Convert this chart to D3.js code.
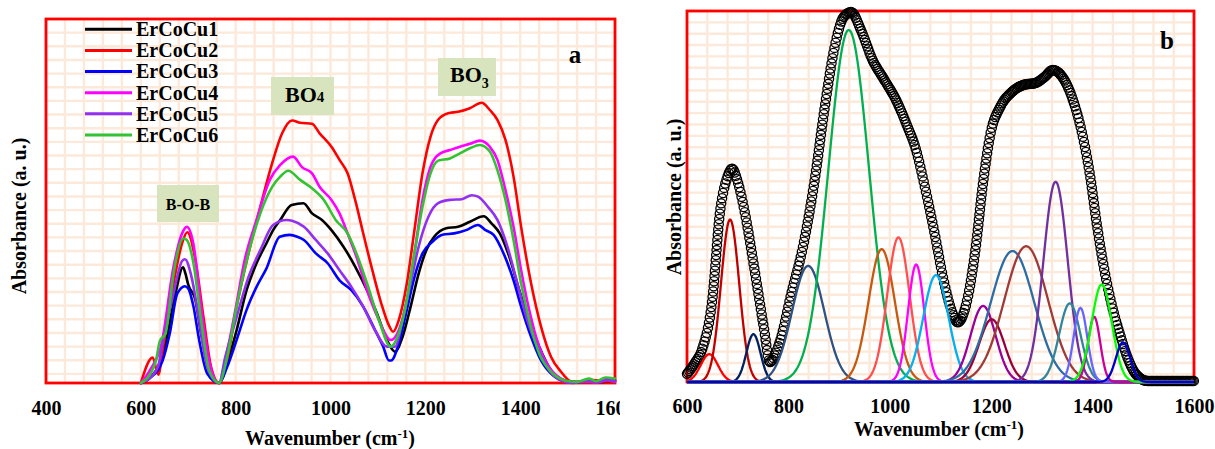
<!DOCTYPE html>
<html>
<head>
<meta charset="utf-8">
<script src="https://cdn.jsdelivr.net/npm/d3@7"></script>
<style>
  body { margin: 0; background: #ffffff; }
  svg { display: block; }
  text { font-family: "Liberation Serif", "Times New Roman", serif; font-weight: bold; fill: #000; }
</style>
</head>
<body>
<svg id="chart" width="1215" height="449"></svg>
<script>
// ---------- Panel (a): FTIR spectra of the six glasses ----------
const sampleNames  = ["ErCoCu1", "ErCoCu2", "ErCoCu3", "ErCoCu4", "ErCoCu5", "ErCoCu6"];
const sampleColors = ["#000000", "#ff0000", "#0000ff", "#ff00ff", "#9130f0", "#33c233"];

// [wavenumber (cm-1), absorbance (a. u.)]
const spectrumErCoCu1 = [[600,0],[620,1.5],[636,4.4],[652,10.8],[673,24.6],[689,31.8],[694,30.1],[700,27],[715,22.8],[727,13.6],[744,3.5],[765,0],[782,5.3],[802,14.5],[823,25.5],[844,32.9],[865,38.4],[879,42],[894,44.8],[918,48.9],[943,49.4],[961,46.6],[982,44.8],[1002,42],[1027,37.5],[1052,32],[1077,25.5],[1098,19.1],[1119,11.8],[1136,8.6],[1152,12.7],[1169,21],[1186,30.1],[1202,36.5],[1219,40.2],[1244,42.5],[1269,42.9],[1294,44.3],[1323,45.8],[1340,43.8],[1357,41.1],[1377,34.7],[1398,25.5],[1419,17.3],[1440,10],[1465,3.5],[1494,0.7],[1520,0.2],[1550,0.6],[1575,0.3],[1600,0.8]];
const spectrumErCoCu2 = [[600,0],[625,7],[637,2.3],[646,9.1],[669,27.4],[687,38.4],[698,41.4],[715,33.8],[732,18.2],[748,4.5],[765,0],[782,6.3],[802,21],[827,35.6],[852,48.4],[877,60.4],[898,68.6],[919,72.1],[936,71.5],[961,71.2],[977,68.6],[1002,64.9],[1019,61.3],[1036,57.6],[1052,50.3],[1069,41.1],[1090,30.1],[1107,21.9],[1123,15.9],[1132,14.1],[1144,17.3],[1161,27.4],[1177,42],[1194,57.6],[1211,67.7],[1227,72.3],[1248,74.1],[1269,74.5],[1294,75.5],[1319,77],[1336,75],[1352,72.3],[1369,66.8],[1386,56.7],[1402,42.9],[1423,27.4],[1444,15.5],[1465,7.2],[1486,3.1],[1507,0.5],[1530,0.3],[1555,0.8],[1580,0.4],[1600,0.6]];
const spectrumErCoCu3 = [[600,0],[620,1.5],[636,3.5],[646,6.2],[661,13.6],[677,24.6],[693,26.6],[700,26],[711,21],[723,11.8],[740,2.6],[765,0],[782,4.4],[802,11.8],[823,20.1],[844,26.4],[865,31.5],[893,40.2],[914,40.7],[930,40.2],[944,39.3],[969,35.6],[994,32.9],[1019,28.2],[1044,25.5],[1069,21],[1094,14.5],[1111,10],[1123,6.2],[1128,6.2],[1144,10.8],[1161,20.1],[1177,29.1],[1194,35.6],[1215,38.8],[1236,40.7],[1261,41.1],[1286,42],[1311,43.4],[1327,42],[1344,40.7],[1365,35.6],[1386,28.2],[1402,21],[1423,12.7],[1444,6.2],[1469,2.1],[1494,0.5],[1520,0.2],[1545,0.8],[1565,0.3],[1585,1.2],[1600,0.5]];
const spectrumErCoCu4 = [[600,0],[619,3.5],[644,11],[669,32],[687,41.1],[697,42.9],[711,38.1],[727,21],[744,6.2],[765,0],[778,6.2],[798,19.1],[819,33.8],[844,44.8],[872,55.8],[894,59.9],[921,62.2],[940,59.3],[961,57.6],[977,53.9],[1002,50.3],[1019,46.6],[1036,41.1],[1057,33.8],[1077,25.5],[1102,17.3],[1127,11.8],[1144,14.5],[1161,22.8],[1177,35.6],[1194,50.3],[1211,59.4],[1232,63.1],[1252,64],[1273,64.9],[1294,65.7],[1315,66.6],[1336,64.9],[1352,61.3],[1369,53],[1386,42.9],[1402,31],[1419,20.1],[1440,10],[1461,4.4],[1486,1.2],[1511,0.2],[1535,0.5],[1560,0.2],[1580,0.9],[1600,0.4]];
const spectrumErCoCu5 = [[600,0],[620,1.5],[636,4.4],[646,10.8],[669,24.6],[687,33.5],[693,34],[707,29.1],[723,17.3],[740,4.4],[765,0],[778,7.1],[802,18.1],[827,29.1],[852,36.5],[879,43.4],[907,44.8],[919,44.6],[944,42.9],[969,39.3],[994,35.6],[1019,31],[1044,26.4],[1069,21],[1094,14.5],[1119,10],[1136,10],[1152,17.3],[1169,27.4],[1186,37.5],[1207,45.8],[1227,49.4],[1252,50.3],[1277,50.5],[1298,51.6],[1311,51.2],[1332,48.4],[1352,44.8],[1373,37.5],[1394,27.4],[1415,17.3],[1436,10],[1461,3.5],[1486,0.7],[1511,0],[1540,0.4],[1565,0.2],[1585,0.8],[1600,0.3]];
const spectrumErCoCu6 = [[600,0],[620,2.5],[632,6.2],[640,11.5],[652,13.6],[669,30.1],[690,39.7],[697,39.3],[711,32.9],[727,17.3],[744,3.5],[765,0],[782,7.1],[802,21],[827,35.6],[852,46.6],[877,53.9],[894,56.7],[911,58.3],[936,55.8],[961,53.5],[986,50.3],[1011,44.8],[1036,41.1],[1052,36.5],[1077,27.4],[1102,17.3],[1127,10],[1144,13.6],[1161,22.8],[1177,35.6],[1194,48.4],[1211,57.6],[1227,61.1],[1252,61.7],[1273,63.1],[1294,64.5],[1315,65.4],[1336,63.6],[1352,58.5],[1369,50.3],[1386,39.3],[1402,27.4],[1419,17.3],[1440,8.1],[1465,3.1],[1494,0.7],[1520,0.3],[1545,1.2],[1560,0.5],[1580,1.5],[1600,1.2]];
const spectraA = [spectrumErCoCu1, spectrumErCoCu2, spectrumErCoCu3, spectrumErCoCu4, spectrumErCoCu5, spectrumErCoCu6];

const ticksA = [400, 600, 800, 1000, 1200, 1400, 1600];

// ---------- Panel (b): deconvolution of one spectrum ----------
// measured spectrum (open circles), [wavenumber, absorbance]
const measuredB = [[600,2.2],[615,5],[630,8.9],[650,22.3],[665,45.7],[679,55],[689,57.5],[700,54],[714,45.7],[734,29.6],[753,13.4],[763,5.4],[783,10.8],[806,24],[829,36.6],[852,54.6],[871,73.4],[890,89.5],[909,98.4],[924,99.7],[943,94.9],[966,86.8],[989,81.5],[1012,76.1],[1035,68.8],[1050,63.4],[1069,52.7],[1088,40.3],[1107,26.9],[1123,18.8],[1134,16.1],[1153,22.3],[1169,35.8],[1184,53.8],[1199,67.2],[1218,74.2],[1241,78.2],[1264,80.1],[1287,80.6],[1306,82.3],[1321,84.1],[1340,82.3],[1363,75.3],[1379,67.2],[1394,56.5],[1409,41.9],[1424,29.6],[1440,19.6],[1455,12.4],[1470,6.2],[1485,2.2],[1508,0.3],[1550,0.3],[1600,0.3]];

// fitted Gaussian bands: centre (cm-1), height, standard deviation (cm-1)
const bandCentres = [644, 685, 731, 839, 919, 984, 1017, 1052, 1091, 1184, 1201, 1242, 1269, 1327, 1355, 1376, 1403, 1418, 1460];
const bandHeights = [7.5, 43.8, 12.9, 31.3, 94.9, 35.8, 39, 31.7, 28.8, 20.5, 16.9, 35.3, 36.6, 54, 21.2, 20, 17.6, 26.3, 10.7];
const bandSigmas  = [17, 18, 14, 32, 40, 26, 22, 16, 25, 25, 25, 43, 43, 24, 21, 13.5, 12, 20, 14];
const bandColors  = ["#ff0000", "#c00000", "#002060", "#2f5283", "#00b050", "#c65911", "#ff5050", "#ff00ff", "#00b0f0", "#990099", "#99003a", "#2e6da4", "#9e3a38", "#7030a0", "#31869b", "#6666ff", "#cc0099", "#00ff00", "#0000cc"];

const ticksB = [600, 800, 1000, 1200, 1400, 1600];

// ---------- drawing ----------
const svg = d3.select("#chart");
const gridColor = "#fde9d9";
const borderColor = "#ff0000";

function drawGrid(g, x, y, xStep, yValues) {
  const [x0, x1] = x.domain();
  const xs = d3.range(x0, x1 + 0.001, xStep);
  g.append("g").selectAll("line").data(xs).join("line")
    .attr("x1", d => x(d)).attr("x2", d => x(d))
    .attr("y1", y.range()[0]).attr("y2", y.range()[1])
    .attr("stroke", gridColor).attr("stroke-width", 2.4);
  g.append("g").selectAll("line").data(yValues).join("line")
    .attr("x1", x.range()[0]).attr("x2", x.range()[1])
    .attr("y1", d => y(d)).attr("y2", d => y(d))
    .attr("stroke", gridColor).attr("stroke-width", 2.4);
}

function drawBorder(g, x, y) {
  g.append("rect")
    .attr("x", x.range()[0]).attr("y", y.range()[1])
    .attr("width", x.range()[1] - x.range()[0])
    .attr("height", y.range()[0] - y.range()[1])
    .attr("fill", "none").attr("stroke", borderColor).attr("stroke-width", 2.8);
}

function drawXAxis(g, x, yPos, ticks, labelOffset) {
  const ax = g.append("g").attr("transform", `translate(0,${yPos})`)
    .call(d3.axisBottom(x).tickValues(ticks).tickSize(0).tickFormat(d3.format("d")));
  ax.select(".domain").remove();
  ax.selectAll("text").attr("y", labelOffset).attr("dy", 0)
    .style("font-size", "20px").style("font-family", "Liberation Serif, serif").style("font-weight", "bold").attr("fill", "#000");
}

function xTitle(g, cx, baseline) {
  const t = g.append("text").attr("x", cx).attr("y", baseline).attr("text-anchor", "middle").style("font-size", "20px");
  t.append("tspan").text("Wavenumber (cm");
  t.append("tspan").text("-1").style("font-size", "13px").attr("dy", -7);
  t.append("tspan").text(")").attr("dy", 7);
}

function yTitle(g, cx, cy) {
  g.append("text").attr("transform", `translate(${cx},${cy}) rotate(-90)`)
    .attr("text-anchor", "middle").style("font-size", "20px")
    .text("Absorbance (a. u.)");
}

// ----- panel (a) -----
svg.append("clipPath").attr("id", "clipA").append("rect").attr("x", 0).attr("y", 0).attr("width", 620).attr("height", 449);
const gA = svg.append("g").attr("clip-path", "url(#clipA)");
const xA = d3.scaleLinear().domain([400, 1600]).range([46, 615]);
const yA = d3.scaleLinear().domain([0, 100]).range([383, 19]);

drawGrid(gA, xA, yA, 40, d3.range(0, 27).map(k => 100 - k * 3.75));
drawBorder(gA, xA, yA);

const lineA = d3.line().x(d => xA(d[0])).y(d => yA(d[1])).curve(d3.curveMonotoneX);
gA.append("g").selectAll("path").data(spectraA).join("path")
  .attr("d", lineA).attr("fill", "none")
  .attr("stroke", (d, i) => sampleColors[i]).attr("stroke-width", 2.6)
  .attr("stroke-linejoin", "round").attr("stroke-linecap", "round");

// legend
const legend = gA.append("g");
sampleNames.forEach((name, i) => {
  const cy = 29.3 + i * 21.14;
  legend.append("line").attr("x1", 85).attr("x2", 132).attr("y1", cy).attr("y2", cy)
    .attr("stroke", sampleColors[i]).attr("stroke-width", 3);
  legend.append("text").attr("x", 136).attr("y", cy + 6.8).style("font-size", "20px").text(name);
});

// band assignment labels
function labelBox(g, x0, y0, w, h) {
  g.append("rect").attr("x", x0).attr("y", y0).attr("width", w).attr("height", h).attr("fill", "#d7e4bd");
}
labelBox(gA, 157, 185, 62, 37);
gA.append("text").attr("x", 188).attr("y", 209.5).attr("text-anchor", "middle").style("font-size", "16px").text("B-O-B");

labelBox(gA, 271, 77, 63, 38);
const bo4 = gA.append("text").attr("x", 285).attr("y", 102).style("font-size", "22px");
bo4.append("tspan").text("BO");
bo4.append("tspan").text("4").style("font-size", "15px");

labelBox(gA, 438, 58, 58, 38);
const bo3 = gA.append("text").attr("x", 450).attr("y", 82).style("font-size", "22px");
bo3.append("tspan").text("BO");
bo3.append("tspan").text("3").style("font-size", "14px").attr("dy", 6);

gA.append("text").attr("x", 575).attr("y", 63).attr("text-anchor", "middle").style("font-size", "25px").text("a");

drawXAxis(gA, xA, 383, ticksA, 32);
xTitle(gA, 330, 445);
yTitle(gA, 25.5, 216);

// ----- panel (b) -----
const gB = svg.append("g");
const xB = d3.scaleLinear().domain([600, 1600]).range([687, 1194]);
const yB = d3.scaleLinear().domain([0, 100]).range([382, 11]);

drawGrid(gB, xB, yB, 40, d3.range(0, 33).map(k => 100 - k * 3.06));
drawBorder(gB, xB, yB);

// measured spectrum as a chain of open circles along its trace
const lineB = d3.line().x(d => xB(d[0])).y(d => yB(d[1])).curve(d3.curveMonotoneX);
const trace = gB.append("path").attr("d", lineB(measuredB)).attr("fill", "none").attr("stroke", "none");
const node = trace.node();
const total = node.getTotalLength();
const ringPts = [];
let prev = null;
for (let s = 0; s <= total; s += 0.25) {
  const p = node.getPointAtLength(s);
  if (!prev || Math.abs(p.x - prev.x) >= 1.1 || Math.hypot(p.x - prev.x, p.y - prev.y) >= 5) {
    ringPts.push(p); prev = p;
  }
}
gB.append("g").selectAll("circle").data(ringPts).join("circle")
  .attr("cx", d => d.x).attr("cy", d => d.y).attr("r", 4.6)
  .attr("fill", "none").attr("stroke", "#000").attr("stroke-width", 1.3);

// Gaussian components
const grid = d3.range(600, 1600.001, 2);
const bandLine = d3.line().x(d => xB(d[0])).y(d => yB(d[1])).curve(d3.curveLinear);
bandCentres.forEach((c, i) => {
  const pts = grid.map(w => [w, bandHeights[i] * Math.exp(-((w - c) ** 2) / (2 * bandSigmas[i] ** 2))]);
  gB.append("path").attr("d", bandLine(pts)).attr("fill", "none")
    .attr("stroke", bandColors[i]).attr("stroke-width", 2.3).attr("stroke-linejoin", "round");
});

gB.append("text").attr("x", 1167).attr("y", 49).attr("text-anchor", "middle").style("font-size", "25px").text("b");

drawXAxis(gB, xB, 383, ticksB, 30);
xTitle(gB, 939, 436);
yTitle(gB, 681, 197);
</script>
</body>
</html>
